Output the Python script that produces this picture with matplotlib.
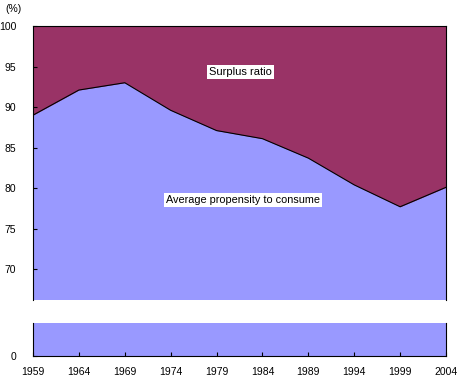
import matplotlib.pyplot as plt

years = [1959, 1964, 1969, 1974, 1979, 1984, 1989, 1994, 1999, 2004]
consume = [89.0, 92.1, 93.0, 89.6, 87.1, 86.1, 83.7, 80.4, 77.7, 80.1]
year_labels = [str(y) for y in years]
top_ticks = [70, 75, 80, 85, 90, 95, 100]

blue = '#9999ff'
purple = '#993366'

plt.rcParams['font.family'] = ['Liberation Sans', 'DejaVu Sans']
plt.rcParams['font.size'] = 7.5

fig = plt.figure(figsize=(4.6, 3.82), dpi=100)
ax = fig.add_axes([33 / 460, 1 - 300 / 382, 413 / 460, 274 / 382])
ax2 = fig.add_axes([33 / 460, 1 - 356 / 382, 413 / 460, 33 / 382])

# upper panel: consumption + surplus up to 100
ax.fill_between(years, 0, consume, color=blue, lw=0)
ax.fill_between(years, consume, 100, color=purple, lw=0)
ax.plot(years, consume, color='black', lw=0.8)
ax.set_xlim(1959, 2004)
ax.set_ylim(66.2, 100)
ax.set_yticks(top_ticks)
ax.set_xticks([])
ax.spines['bottom'].set_visible(False)
ax.tick_params(axis='y', direction='in', length=3, pad=12, labelsize=7.5)

ax.text(1981.6, 94.3, 'Surplus ratio', ha='center', va='center', fontsize=8,
        bbox=dict(facecolor='white', edgecolor='none', pad=1.5))
ax.text(1981.9, 78.5, 'Average propensity to consume', ha='center', va='center',
        fontsize=7.8, bbox=dict(facecolor='white', edgecolor='none', pad=1.5))

# lower panel: the broken-off base of the axis
ax2.fill_between(years, 0, consume, color=blue, lw=0)
ax2.set_xlim(1959, 2004)
ax2.set_ylim(0, 4.1)
ax2.set_yticks([0])
ax2.set_xticks(years)
ax2.set_xticklabels(year_labels)
ax2.spines['top'].set_visible(False)
ax2.tick_params(axis='y', direction='in', length=3, pad=12, labelsize=7.5)
ax2.tick_params(axis='x', direction='in', length=3, pad=8, labelsize=7.5)

fig.text(5 / 460, 1 - 9 / 382, '(%)', fontsize=7.5, va='center')

fig.savefig('out.png', dpi=100)
